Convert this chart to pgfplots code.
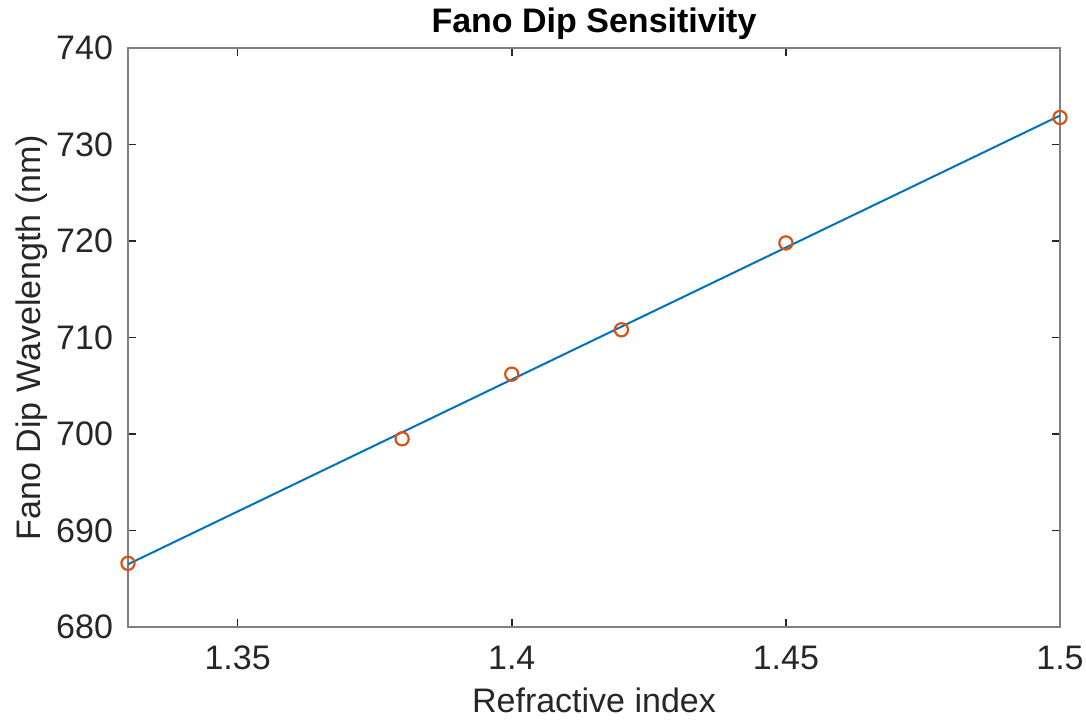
\documentclass[border=0pt]{standalone}
\usepackage{pgfplots}
\pgfplotsset{compat=1.18}
\usepackage{fontspec}
\setmainfont{Liberation Sans}
\definecolor{mblue}{RGB}{0,114,189}
\definecolor{morange}{RGB}{217,83,25}
\definecolor{axgray}{RGB}{128,128,128}
\definecolor{txt}{RGB}{38,38,38}
\begin{document}
\begin{tikzpicture}
\useasboundingbox (-64pt,-46pt) rectangle (479pt,313.5pt);
\begin{axis}[
  at={(0,0)}, anchor=south west,
  scale only axis, width=466pt, height=289.5pt,
  xmin=1.33, xmax=1.5, ymin=680, ymax=740,
  xtick={1.35,1.4,1.45,1.5},
  xticklabels={1.35,1.4,1.45,1.5},
  ytick={680,690,...,740},
  tick align=inside,
  major tick length=4pt,
  axis line style={draw=axgray, line width=1pt},
  every tick/.style={txt, line width=0.8pt},
  tick label style={font=\fontsize{17}{20}\selectfont, text=txt},
  /pgf/number format/assume math mode=true,
  xticklabel style={yshift=-6pt},
  yticklabel style={xshift=-4pt},
  label style={font=\fontsize{17}{20}\selectfont, text=txt},
  xlabel={Refractive index},
  ylabel={Fano Dip Wavelength (nm)},
  xlabel style={at={(axis description cs:0.5,-0.126)}, anchor=center},
  ylabel style={at={(axis description cs:-0.103,0.5)}, anchor=center},
  title={\textbf{Fano Dip Sensitivity}},
  title style={font=\fontsize{17}{20}\selectfont, at={(axis description cs:0.5,1.022)}, anchor=center},
  clip=false,
]
\addplot[mblue, line width=1pt] coordinates {(1.33,686.5) (1.5,733.0)};
\addplot[only marks, mark=o, mark size=3.3pt, mark options={draw=morange, line width=1.1pt}] coordinates {
  (1.33,686.6) (1.38,699.5) (1.40,706.2) (1.42,710.8) (1.45,719.8) (1.50,732.8)};
\end{axis}
\end{tikzpicture}
\end{document}
